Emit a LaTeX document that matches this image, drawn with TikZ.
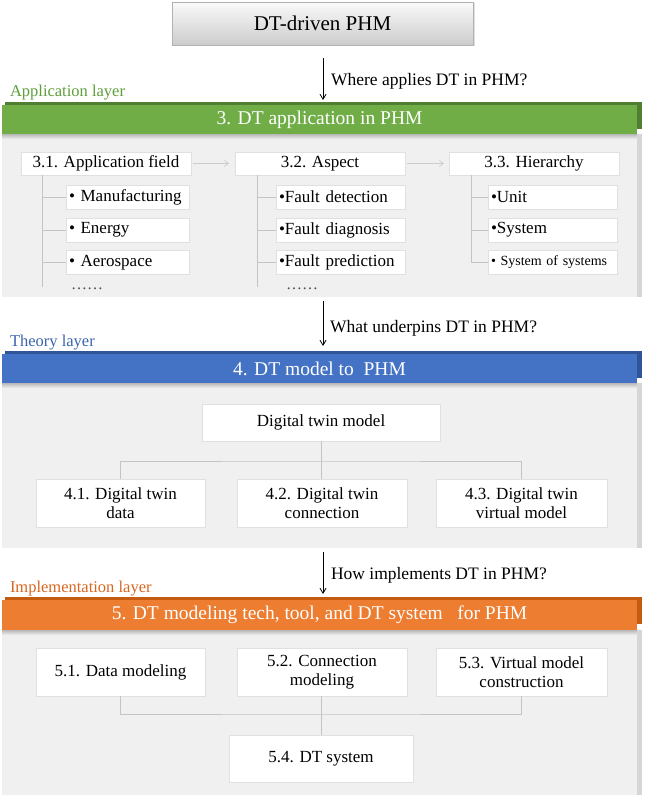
\documentclass[tikz,border=0pt]{standalone}
\usepackage{fontspec}
\setmainfont{Liberation Serif}
\usetikzlibrary{arrows.meta,shadows}
\definecolor{gmain}{HTML}{70AD47}
\definecolor{gdark}{HTML}{507E32}
\definecolor{gtext}{HTML}{5E9E3A}
\definecolor{bmain}{HTML}{4472C4}
\definecolor{bdark}{HTML}{2F5597}
\definecolor{btext}{HTML}{3B64AD}
\definecolor{omain}{HTML}{ED7D31}
\definecolor{odark}{HTML}{C55A11}
\definecolor{otext}{HTML}{D9661E}
\definecolor{panelgray}{HTML}{F0F0F0}
\definecolor{paneledge}{HTML}{D6D6D6}
\definecolor{treegray}{HTML}{C4C4C4}
\begin{document}
\begin{tikzpicture}[x=1pt,y=-1pt,
  every node/.style={inner sep=0pt, outer sep=0pt},
  wbox/.style={rectangle, fill=white, draw=black!12, align=center, font=\fontsize{17}{19.5}\selectfont},
  itembox/.style={wbox, anchor=west, minimum height=24pt, inner xsep=3pt, text width=#1, align=left},
  smallitem/.style={font=\fontsize{14}{16}\selectfont},
  bannertext/.style={text=white, font=\fontsize{19.5}{22}\selectfont},
  layerlabel/.style={anchor=base west, font=\fontsize{16.5}{19}\selectfont},
  question/.style={anchor=base west, font=\fontsize{17.5}{20}\selectfont},
  mainarrow/.style={-{Straight Barb[length=5pt,width=6pt]}, line width=0.8pt, black},
  grayarrow/.style={-{Straight Barb[length=4pt,width=6pt]}, line width=0.7pt, black!20},
  treeline/.style={draw=treegray, line width=0.7pt},
  dots/.style={anchor=base west, text=black!70, font=\fontsize{16}{18}\selectfont}
]
\useasboundingbox (0,0) rectangle (645,797);
\fill[white] (0,0) rectangle (645,797);

% ---------- title ----------
\node[rectangle, draw=black!30, top color=black!2, bottom color=black!20,
      drop shadow={opacity=0.25, shadow xshift=1.5pt, shadow yshift=-1.5pt},
      minimum width=301pt, minimum height=43pt,
      font=\fontsize{21}{24}\selectfont] (title) at (322.5,23.5) {DT-driven PHM};

% ---------- panels (back layers) ----------
\node[fill=paneledge, anchor=north west, minimum width=640pt, minimum height=163pt] (p1back) at (2,134) {};
\node[fill=panelgray, anchor=north west, minimum width=635pt, minimum height=163pt] (p1) at (2,134) {};
\node[fill=paneledge, anchor=north west, minimum width=640pt, minimum height=165pt] (p2back) at (2,383) {};
\node[fill=panelgray, anchor=north west, minimum width=635pt, minimum height=165pt] (p2) at (2,383) {};
\node[fill=paneledge, anchor=north west, minimum width=640pt, minimum height=165pt] (p3back) at (2,630) {};
\node[fill=panelgray, anchor=north west, minimum width=635pt, minimum height=165pt] (p3) at (2,630) {};

% ---------- banners ----------
\node[fill=gdark, anchor=north west, minimum width=637pt, minimum height=27pt] (gback) at (5,102) {};
\node[fill=gmain, anchor=north west, minimum width=635pt, minimum height=29pt, bannertext] (gban) at (2,105) {3. DT application in PHM};
\shade[top color=black!28, bottom color=panelgray] (2,134) rectangle (637,139);

\node[fill=bdark, anchor=north west, minimum width=637pt, minimum height=27pt] (bback) at (5,351) {};
\node[fill=bmain, anchor=north west, minimum width=635pt, minimum height=29pt, bannertext] (bban) at (2,354) {4. DT model to\ \ PHM};
\shade[top color=black!28, bottom color=panelgray] (2,383) rectangle (637,388);

\node[fill=odark, anchor=north west, minimum width=637pt, minimum height=27pt] (oback) at (5,597) {};
\node[fill=omain, anchor=north west, minimum width=635pt, minimum height=30pt, bannertext] (oban) at (2,600) {5. DT modeling tech, tool, and DT system\ \ \ for PHM};
\shade[top color=black!28, bottom color=panelgray] (2,630) rectangle (637,635);

% ---------- layer labels ----------
\node[layerlabel, text=gtext] (lapp) at (10,97) {Application layer};
\node[layerlabel, text=btext] (lthe) at (10,346) {Theory layer};
\node[layerlabel, text=otext] (limp) at (10,592) {Implementation layer};

% ---------- main arrows and questions ----------
\coordinate (a1s) at (323,58);  \coordinate (a1e) at (323,100);
\coordinate (a2s) at (323,301); \coordinate (a2e) at (323,346);
\coordinate (a3s) at (323,552); \coordinate (a3e) at (323,594);
\draw[mainarrow] (a1s) -- (a1e);
\draw[mainarrow] (a2s) -- (a2e);
\draw[mainarrow] (a3s) -- (a3e);
\node[question] (q1) at (331,86) {Where applies DT in PHM?};
\node[question] (q2) at (330,332) {What underpins DT in PHM?};
\node[question] (q3) at (331,579) {How implements DT in PHM?};

% ---------- application layer content ----------
\node[wbox, minimum width=170pt, minimum height=23pt] (h31) at (106,163.5) {3.1. Application field};
\node[wbox, minimum width=170pt, minimum height=23pt] (h32) at (320,163.5) {3.2. Aspect};
\node[wbox, minimum width=170pt, minimum height=23pt] (h33) at (534,163.5) {3.3. Hierarchy};
\draw[grayarrow] ([xshift=2pt]h31.east) -- ([xshift=-6pt]h32.west);
\draw[grayarrow] ([xshift=2pt]h32.east) -- ([xshift=-5pt]h33.west);

\node[itembox=117pt] (m1) at (66,197) {• Manufacturing};
\node[itembox=117pt] (m2) at (66,230) {• Energy};
\node[itembox=117pt] (m3) at (66,262.5) {• Aerospace};
\node[dots] (d1) at (71,289) {……};

\node[itembox=123pt] (f1) at (276,197) {•Fault detection};
\node[itembox=123pt] (f2) at (276,230) {•Fault diagnosis};
\node[itembox=123pt] (f3) at (276,262.5) {•Fault prediction};
\node[dots] (d2) at (286,289) {……};

\node[itembox=123pt] (u1) at (488,197) {•Unit};
\node[itembox=123pt] (u2) at (488,230) {•System};
\node[itembox=123pt, smallitem] (u3) at (488,262.5) {• System of systems};

\coordinate (t1end) at (42,287);
\coordinate (t2end) at (257,287);
\draw[treeline] (h31.south -| t1end) -- (t1end);
\draw[treeline] (h32.south -| t2end) -- (t2end);
\draw[treeline] (h33.south -| u3.west) ++(-17pt,0) |- (u3.west);
\foreach \n in {m1,m2,m3} \draw[treeline] (\n.west -| t1end) -- (\n.west);
\foreach \n in {f1,f2,f3} \draw[treeline] (\n.west -| t2end) -- (\n.west);
\foreach \n in {u1,u2} \draw[treeline] ([xshift=-17pt]\n.west) -- (\n.west);

% ---------- theory layer content ----------
\node[wbox, minimum width=238pt, minimum height=37pt] (dtm) at (321,422.5) {Digital twin model};
\node[wbox, minimum width=169pt, minimum height=48pt] (b41) at (120.5,503) {4.1. Digital twin\\data};
\node[wbox, minimum width=170pt, minimum height=48pt] (b42) at (322,503) {4.2. Digital twin\\connection};
\node[wbox, minimum width=171pt, minimum height=48pt] (b43) at (521.5,503) {4.3. Digital twin\\virtual model};
\coordinate (tj) at (321,461);
\draw[treeline] (dtm.south) -- (tj);
\draw[treeline] (b41.north) |- (tj) -| (b43.north);
\draw[treeline] (tj) -- (tj |- b42.north);

% ---------- implementation layer content ----------
\node[wbox, minimum width=169pt, minimum height=48pt] (b51) at (120.5,672) {5.1. Data modeling};
\node[wbox, minimum width=170pt, minimum height=48pt] (b52) at (322,672) {5.2. Connection\\modeling};
\node[wbox, minimum width=171pt, minimum height=48pt] (b53) at (521.5,672) {5.3. Virtual model\\construction};
\node[wbox, minimum width=184pt, minimum height=47pt] (b54) at (321,758.5) {5.4. DT system};
\coordinate (ij) at (321,714);
\draw[treeline] (b51.south) |- (ij) -| (b53.south);
\draw[treeline] (b52.south -| ij) -- (b54.north);
\end{tikzpicture}
\end{document}
